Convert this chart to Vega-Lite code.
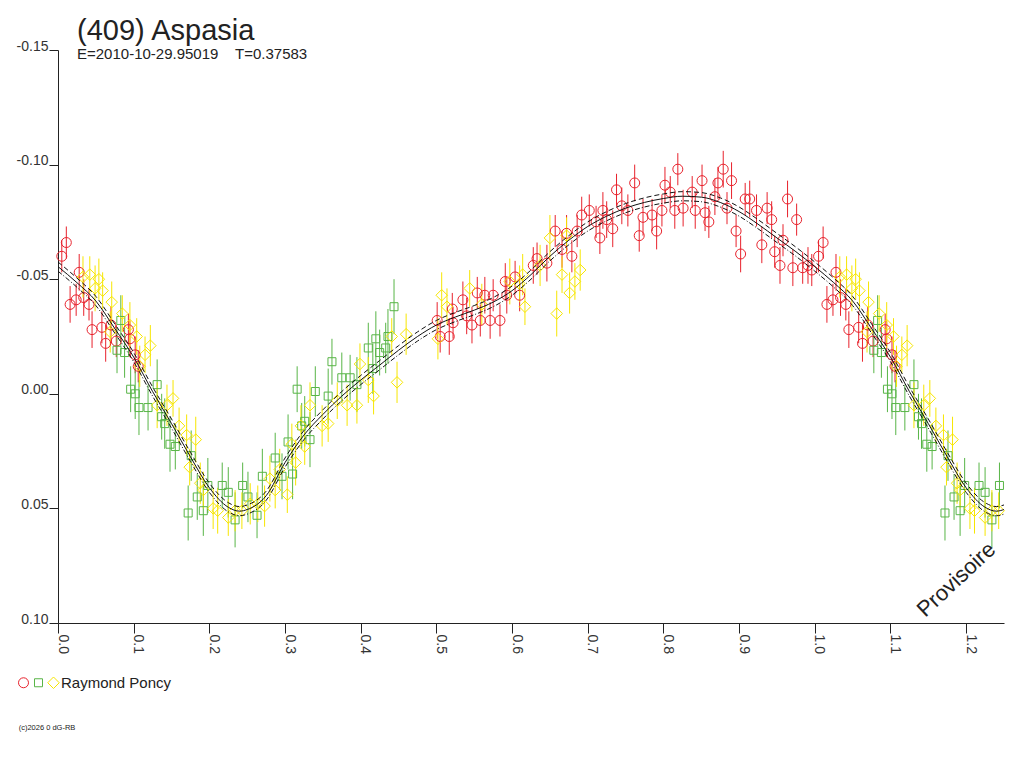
{
"$schema":"https://vega.github.io/schema/vega-lite/v6.json",
"autosize":{"type":"none"},
"padding":{"left":58,"top":50,"right":20,"bottom":145},
"width":946,"height":573,
"background":"white",
"title":{"text":"(409) Aspasia","subtitle":"E=2010-10-29.95019\u00a0\u00a0\u00a0\u00a0T=0.37583","anchor":"start","frame":"group","dx":19,"offset":-23,"font":"Liberation Sans","fontSize":29,"fontWeight":"normal","color":"#222","subtitleFont":"Liberation Sans","subtitleFontSize":15,"subtitleColor":"#222","subtitlePadding":1},
"config":{"view":{"stroke":null},"axis":{"grid":false,"domainColor":"#222","tickColor":"#222","labelFont":"Liberation Sans","labelFontSize":14,"labelColor":"#333"}},
"datasets":{
"points":[
{"series":"a","phase":0.011,"mag":-0.066,"err":0.007},{"series":"a","phase":0.005,"mag":-0.060,"err":0.007},{"series":"a","phase":0.028,"mag":-0.053,"err":0.008},{"series":"a","phase":0.016,"mag":-0.039,"err":0.008},{"series":"a","phase":0.024,"mag":-0.041,"err":0.007},{"series":"a","phase":0.034,"mag":-0.042,"err":0.008},{"series":"a","phase":0.041,"mag":-0.039,"err":0.007},{"series":"a","phase":0.045,"mag":-0.028,"err":0.008},{"series":"a","phase":0.058,"mag":-0.029,"err":0.007},{"series":"a","phase":0.063,"mag":-0.022,"err":0.008},{"series":"a","phase":0.070,"mag":-0.030,"err":0.008},{"series":"a","phase":0.077,"mag":-0.023,"err":0.007},{"series":"a","phase":0.093,"mag":-0.028,"err":0.007},{"series":"a","phase":0.095,"mag":-0.024,"err":0.008},{"series":"a","phase":0.102,"mag":-0.017,"err":0.008},{"series":"a","phase":0.106,"mag":-0.012,"err":0.007},
{"series":"a","phase":1.011,"mag":-0.066,"err":0.007},{"series":"a","phase":1.005,"mag":-0.060,"err":0.007},{"series":"a","phase":1.028,"mag":-0.053,"err":0.008},{"series":"a","phase":1.016,"mag":-0.039,"err":0.008},{"series":"a","phase":1.024,"mag":-0.041,"err":0.007},{"series":"a","phase":1.034,"mag":-0.042,"err":0.008},{"series":"a","phase":1.041,"mag":-0.039,"err":0.007},{"series":"a","phase":1.045,"mag":-0.028,"err":0.008},{"series":"a","phase":1.058,"mag":-0.029,"err":0.007},{"series":"a","phase":1.063,"mag":-0.022,"err":0.008},{"series":"a","phase":1.070,"mag":-0.030,"err":0.008},{"series":"a","phase":1.077,"mag":-0.023,"err":0.007},{"series":"a","phase":1.093,"mag":-0.028,"err":0.007},{"series":"a","phase":1.095,"mag":-0.024,"err":0.008},{"series":"a","phase":1.102,"mag":-0.017,"err":0.008},{"series":"a","phase":1.106,"mag":-0.012,"err":0.007},
{"series":"a","phase":0.501,"mag":-0.032,"err":0.008},{"series":"a","phase":0.505,"mag":-0.025,"err":0.007},{"series":"a","phase":0.517,"mag":-0.025,"err":0.008},{"series":"a","phase":0.521,"mag":-0.037,"err":0.007},{"series":"a","phase":0.535,"mag":-0.041,"err":0.008},{"series":"a","phase":0.522,"mag":-0.031,"err":0.007},{"series":"a","phase":0.547,"mag":-0.030,"err":0.008},{"series":"a","phase":0.554,"mag":-0.044,"err":0.007},{"series":"a","phase":0.540,"mag":-0.034,"err":0.008},{"series":"a","phase":0.558,"mag":-0.032,"err":0.007},{"series":"a","phase":0.571,"mag":-0.032,"err":0.008},{"series":"a","phase":0.584,"mag":-0.032,"err":0.007},{"series":"a","phase":0.564,"mag":-0.043,"err":0.008},{"series":"a","phase":0.575,"mag":-0.043,"err":0.007},{"series":"a","phase":0.591,"mag":-0.049,"err":0.008},{"series":"a","phase":0.604,"mag":-0.051,"err":0.007},{"series":"a","phase":0.593,"mag":-0.043,"err":0.008},{"series":"a","phase":0.610,"mag":-0.043,"err":0.007},{"series":"a","phase":0.628,"mag":-0.056,"err":0.008},{"series":"a","phase":0.633,"mag":-0.059,"err":0.007},{"series":"a","phase":0.646,"mag":-0.057,"err":0.008},{"series":"a","phase":0.657,"mag":-0.071,"err":0.007},{"series":"a","phase":0.672,"mag":-0.070,"err":0.008},{"series":"a","phase":0.686,"mag":-0.071,"err":0.007},{"series":"a","phase":0.666,"mag":-0.063,"err":0.008},{"series":"a","phase":0.679,"mag":-0.060,"err":0.007},{"series":"a","phase":0.692,"mag":-0.078,"err":0.008},{"series":"a","phase":0.702,"mag":-0.080,"err":0.007},{"series":"a","phase":0.720,"mag":-0.080,"err":0.008},{"series":"a","phase":0.716,"mag":-0.068,"err":0.007},{"series":"a","phase":0.725,"mag":-0.076,"err":0.008},{"series":"a","phase":0.711,"mag":-0.075,"err":0.007},{"series":"a","phase":0.733,"mag":-0.072,"err":0.008},{"series":"a","phase":0.738,"mag":-0.089,"err":0.007},{"series":"a","phase":0.745,"mag":-0.082,"err":0.008},{"series":"a","phase":0.753,"mag":-0.080,"err":0.007},{"series":"a","phase":0.762,"mag":-0.092,"err":0.008},{"series":"a","phase":0.768,"mag":-0.069,"err":0.007},{"series":"a","phase":0.773,"mag":-0.077,"err":0.008},{"series":"a","phase":0.785,"mag":-0.078,"err":0.007},{"series":"a","phase":0.791,"mag":-0.071,"err":0.008},{"series":"a","phase":0.798,"mag":-0.080,"err":0.007},{"series":"a","phase":0.802,"mag":-0.091,"err":0.008},{"series":"a","phase":0.809,"mag":-0.088,"err":0.007},{"series":"a","phase":0.815,"mag":-0.080,"err":0.008},{"series":"a","phase":0.819,"mag":-0.098,"err":0.007},{"series":"a","phase":0.826,"mag":-0.081,"err":0.008},{"series":"a","phase":0.838,"mag":-0.088,"err":0.007},{"series":"a","phase":0.842,"mag":-0.080,"err":0.008},{"series":"a","phase":0.851,"mag":-0.093,"err":0.007},{"series":"a","phase":0.855,"mag":-0.079,"err":0.008},{"series":"a","phase":0.860,"mag":-0.075,"err":0.007},{"series":"a","phase":0.868,"mag":-0.086,"err":0.008},{"series":"a","phase":0.872,"mag":-0.092,"err":0.007},{"series":"a","phase":0.879,"mag":-0.098,"err":0.008},{"series":"a","phase":0.884,"mag":-0.081,"err":0.007},{"series":"a","phase":0.890,"mag":-0.093,"err":0.008},{"series":"a","phase":0.896,"mag":-0.071,"err":0.007},{"series":"a","phase":0.902,"mag":-0.061,"err":0.008},{"series":"a","phase":0.908,"mag":-0.085,"err":0.007},{"series":"a","phase":0.914,"mag":-0.085,"err":0.008},{"series":"a","phase":0.923,"mag":-0.080,"err":0.007},{"series":"a","phase":0.930,"mag":-0.065,"err":0.008},{"series":"a","phase":0.937,"mag":-0.081,"err":0.007},{"series":"a","phase":0.943,"mag":-0.076,"err":0.008},{"series":"a","phase":0.947,"mag":-0.062,"err":0.007},{"series":"a","phase":0.954,"mag":-0.056,"err":0.008},{"series":"a","phase":0.958,"mag":-0.067,"err":0.007},{"series":"a","phase":0.964,"mag":-0.085,"err":0.008},{"series":"a","phase":0.976,"mag":-0.076,"err":0.007},{"series":"a","phase":0.971,"mag":-0.055,"err":0.008},{"series":"a","phase":0.984,"mag":-0.055,"err":0.007},{"series":"a","phase":0.991,"mag":-0.056,"err":0.008},{"series":"a","phase":0.996,"mag":-0.054,"err":0.007},
{"series":"b","phase":0.083,"mag":-0.032,"err":0.011},{"series":"b","phase":0.078,"mag":-0.019,"err":0.010},{"series":"b","phase":0.088,"mag":-0.018,"err":0.011},{"series":"b","phase":0.096,"mag":-0.002,"err":0.010},{"series":"b","phase":0.102,"mag":0.000,"err":0.011},{"series":"b","phase":0.107,"mag":0.006,"err":0.012},{"series":"b","phase":0.119,"mag":0.006,"err":0.010},{"series":"b","phase":0.131,"mag":-0.004,"err":0.011},{"series":"b","phase":0.137,"mag":0.010,"err":0.010},{"series":"b","phase":0.141,"mag":0.013,"err":0.011},{"series":"b","phase":0.148,"mag":0.022,"err":0.012},{"series":"b","phase":0.155,"mag":0.023,"err":0.010},{"series":"b","phase":0.176,"mag":0.027,"err":0.011},{"series":"b","phase":0.172,"mag":0.052,"err":0.012},{"series":"b","phase":0.184,"mag":0.045,"err":0.010},{"series":"b","phase":0.192,"mag":0.051,"err":0.011},{"series":"b","phase":0.198,"mag":0.040,"err":0.012},{"series":"b","phase":0.217,"mag":0.040,"err":0.010},{"series":"b","phase":0.225,"mag":0.043,"err":0.011},{"series":"b","phase":0.234,"mag":0.055,"err":0.012},{"series":"b","phase":0.244,"mag":0.040,"err":0.010},
{"series":"b","phase":1.083,"mag":-0.032,"err":0.011},{"series":"b","phase":1.078,"mag":-0.019,"err":0.010},{"series":"b","phase":1.088,"mag":-0.018,"err":0.011},{"series":"b","phase":1.096,"mag":-0.002,"err":0.010},{"series":"b","phase":1.102,"mag":0.000,"err":0.011},{"series":"b","phase":1.107,"mag":0.006,"err":0.012},{"series":"b","phase":1.119,"mag":0.006,"err":0.010},{"series":"b","phase":1.131,"mag":-0.004,"err":0.011},{"series":"b","phase":1.137,"mag":0.010,"err":0.010},{"series":"b","phase":1.141,"mag":0.013,"err":0.011},{"series":"b","phase":1.148,"mag":0.022,"err":0.012},{"series":"b","phase":1.155,"mag":0.023,"err":0.010},{"series":"b","phase":1.176,"mag":0.027,"err":0.011},{"series":"b","phase":1.172,"mag":0.052,"err":0.012},{"series":"b","phase":1.184,"mag":0.045,"err":0.010},{"series":"b","phase":1.192,"mag":0.051,"err":0.011},{"series":"b","phase":1.198,"mag":0.040,"err":0.012},{"series":"b","phase":1.217,"mag":0.040,"err":0.010},{"series":"b","phase":1.225,"mag":0.043,"err":0.011},{"series":"b","phase":1.234,"mag":0.055,"err":0.012},{"series":"b","phase":1.244,"mag":0.040,"err":0.010},
{"series":"b","phase":0.251,"mag":0.045,"err":0.011},{"series":"b","phase":0.263,"mag":0.053,"err":0.010},{"series":"b","phase":0.270,"mag":0.036,"err":0.012},{"series":"b","phase":0.287,"mag":0.028,"err":0.011},{"series":"b","phase":0.296,"mag":0.036,"err":0.010},{"series":"b","phase":0.304,"mag":0.021,"err":0.012},{"series":"b","phase":0.310,"mag":0.035,"err":0.011},{"series":"b","phase":0.322,"mag":0.014,"err":0.010},{"series":"b","phase":0.326,"mag":0.012,"err":0.011},{"series":"b","phase":0.333,"mag":0.020,"err":0.012},{"series":"b","phase":0.316,"mag":-0.002,"err":0.010},{"series":"b","phase":0.340,"mag":-0.001,"err":0.011},{"series":"b","phase":0.357,"mag":0.001,"err":0.012},{"series":"b","phase":0.362,"mag":-0.014,"err":0.010},{"series":"b","phase":0.375,"mag":-0.007,"err":0.011},{"series":"b","phase":0.386,"mag":-0.007,"err":0.010},{"series":"b","phase":0.395,"mag":-0.004,"err":0.012},{"series":"b","phase":0.410,"mag":-0.020,"err":0.011},{"series":"b","phase":0.420,"mag":-0.024,"err":0.012},{"series":"b","phase":0.425,"mag":-0.018,"err":0.010},{"series":"b","phase":0.433,"mag":-0.020,"err":0.011},{"series":"b","phase":0.436,"mag":-0.025,"err":0.012},{"series":"b","phase":0.416,"mag":-0.011,"err":0.011},{"series":"b","phase":0.444,"mag":-0.038,"err":0.012},
{"series":"c","phase":0.033,"mag":-0.051,"err":0.009},{"series":"c","phase":0.042,"mag":-0.052,"err":0.008},{"series":"c","phase":0.054,"mag":-0.050,"err":0.009},{"series":"c","phase":0.049,"mag":-0.046,"err":0.010},{"series":"c","phase":0.059,"mag":-0.045,"err":0.008},{"series":"c","phase":0.071,"mag":-0.040,"err":0.009},{"series":"c","phase":0.085,"mag":-0.035,"err":0.008},{"series":"c","phase":0.069,"mag":-0.027,"err":0.009},{"series":"c","phase":0.095,"mag":-0.030,"err":0.010},{"series":"c","phase":0.104,"mag":-0.025,"err":0.008},{"series":"c","phase":0.122,"mag":-0.021,"err":0.009},{"series":"c","phase":0.115,"mag":-0.017,"err":0.008},{"series":"c","phase":0.108,"mag":-0.012,"err":0.009},{"series":"c","phase":0.131,"mag":0.005,"err":0.010},{"series":"c","phase":0.152,"mag":0.002,"err":0.008},{"series":"c","phase":0.144,"mag":0.005,"err":0.009},{"series":"c","phase":0.160,"mag":0.014,"err":0.008},{"series":"c","phase":0.170,"mag":0.018,"err":0.009},{"series":"c","phase":0.182,"mag":0.020,"err":0.010},{"series":"c","phase":0.174,"mag":0.032,"err":0.008},{"series":"c","phase":0.188,"mag":0.039,"err":0.009},{"series":"c","phase":0.192,"mag":0.042,"err":0.008},{"series":"c","phase":0.205,"mag":0.050,"err":0.009},{"series":"c","phase":0.211,"mag":0.051,"err":0.010},{"series":"c","phase":0.225,"mag":0.054,"err":0.008},{"series":"c","phase":0.234,"mag":0.051,"err":0.009},{"series":"c","phase":0.243,"mag":0.051,"err":0.008},
{"series":"c","phase":1.033,"mag":-0.051,"err":0.009},{"series":"c","phase":1.042,"mag":-0.052,"err":0.008},{"series":"c","phase":1.054,"mag":-0.050,"err":0.009},{"series":"c","phase":1.049,"mag":-0.046,"err":0.010},{"series":"c","phase":1.059,"mag":-0.045,"err":0.008},{"series":"c","phase":1.071,"mag":-0.040,"err":0.009},{"series":"c","phase":1.085,"mag":-0.035,"err":0.008},{"series":"c","phase":1.069,"mag":-0.027,"err":0.009},{"series":"c","phase":1.095,"mag":-0.030,"err":0.010},{"series":"c","phase":1.104,"mag":-0.025,"err":0.008},{"series":"c","phase":1.122,"mag":-0.021,"err":0.009},{"series":"c","phase":1.115,"mag":-0.017,"err":0.008},{"series":"c","phase":1.108,"mag":-0.012,"err":0.009},{"series":"c","phase":1.131,"mag":0.005,"err":0.010},{"series":"c","phase":1.152,"mag":0.002,"err":0.008},{"series":"c","phase":1.144,"mag":0.005,"err":0.009},{"series":"c","phase":1.160,"mag":0.014,"err":0.008},{"series":"c","phase":1.170,"mag":0.018,"err":0.009},{"series":"c","phase":1.182,"mag":0.020,"err":0.010},{"series":"c","phase":1.174,"mag":0.032,"err":0.008},{"series":"c","phase":1.188,"mag":0.039,"err":0.009},{"series":"c","phase":1.192,"mag":0.042,"err":0.008},{"series":"c","phase":1.205,"mag":0.050,"err":0.009},{"series":"c","phase":1.211,"mag":0.051,"err":0.010},{"series":"c","phase":1.225,"mag":0.054,"err":0.008},{"series":"c","phase":1.234,"mag":0.051,"err":0.009},{"series":"c","phase":1.243,"mag":0.051,"err":0.008},
{"series":"c","phase":0.254,"mag":0.048,"err":0.009},{"series":"c","phase":0.264,"mag":0.048,"err":0.008},{"series":"c","phase":0.273,"mag":0.049,"err":0.009},{"series":"c","phase":0.280,"mag":0.037,"err":0.010},{"series":"c","phase":0.287,"mag":0.042,"err":0.008},{"series":"c","phase":0.293,"mag":0.033,"err":0.009},{"series":"c","phase":0.303,"mag":0.044,"err":0.008},{"series":"c","phase":0.309,"mag":0.022,"err":0.009},{"series":"c","phase":0.314,"mag":0.030,"err":0.010},{"series":"c","phase":0.326,"mag":0.023,"err":0.008},{"series":"c","phase":0.349,"mag":0.014,"err":0.009},{"series":"c","phase":0.357,"mag":0.013,"err":0.008},{"series":"c","phase":0.321,"mag":0.014,"err":0.009},{"series":"c","phase":0.333,"mag":0.005,"err":0.010},{"series":"c","phase":0.369,"mag":0.003,"err":0.008},{"series":"c","phase":0.382,"mag":0.005,"err":0.009},{"series":"c","phase":0.395,"mag":0.005,"err":0.008},{"series":"c","phase":0.399,"mag":-0.013,"err":0.009},{"series":"c","phase":0.410,"mag":-0.006,"err":0.010},{"series":"c","phase":0.417,"mag":0.001,"err":0.008},{"series":"c","phase":0.448,"mag":-0.005,"err":0.009},{"series":"c","phase":0.441,"mag":-0.025,"err":0.008},{"series":"c","phase":0.460,"mag":-0.026,"err":0.009},{"series":"c","phase":0.507,"mag":-0.043,"err":0.010},{"series":"c","phase":0.514,"mag":-0.038,"err":0.008},{"series":"c","phase":0.502,"mag":-0.024,"err":0.009},{"series":"c","phase":0.544,"mag":-0.046,"err":0.008},{"series":"c","phase":0.560,"mag":-0.039,"err":0.009},{"series":"c","phase":0.597,"mag":-0.049,"err":0.010},{"series":"c","phase":0.610,"mag":-0.048,"err":0.008},{"series":"c","phase":0.614,"mag":-0.052,"err":0.009},{"series":"c","phase":0.617,"mag":-0.038,"err":0.008},{"series":"c","phase":0.637,"mag":-0.056,"err":0.009},{"series":"c","phase":0.650,"mag":-0.068,"err":0.010},{"series":"c","phase":0.666,"mag":-0.052,"err":0.008},{"series":"c","phase":0.676,"mag":-0.044,"err":0.009},{"series":"c","phase":0.683,"mag":-0.049,"err":0.008},{"series":"c","phase":0.690,"mag":-0.054,"err":0.009},{"series":"c","phase":0.659,"mag":-0.035,"err":0.010},{"series":"c","phase":0.672,"mag":-0.069,"err":0.008}
],
"curve":[
{"phase":0.000,"mid":-0.0555,"hi":-0.0575,"lo":-0.0535},{"phase":0.025,"mid":-0.0485,"hi":-0.0505,"lo":-0.0465},{"phase":0.050,"mid":-0.0405,"hi":-0.0425,"lo":-0.0385},{"phase":0.075,"mid":-0.0285,"hi":-0.0305,"lo":-0.0265},{"phase":0.100,"mid":-0.0160,"hi":-0.0180,"lo":-0.0140},{"phase":0.125,"mid":-0.0010,"hi":-0.0030,"lo":0.0010},{"phase":0.150,"mid":0.0130,"hi":0.0110,"lo":0.0150},{"phase":0.175,"mid":0.0275,"hi":0.0255,"lo":0.0295},{"phase":0.200,"mid":0.0410,"hi":0.0390,"lo":0.0430},{"phase":0.225,"mid":0.0495,"hi":0.0475,"lo":0.0515},{"phase":0.240,"mid":0.0512,"hi":0.0492,"lo":0.0532},{"phase":0.250,"mid":0.0505,"hi":0.0485,"lo":0.0525},{"phase":0.275,"mid":0.0445,"hi":0.0425,"lo":0.0465},{"phase":0.300,"mid":0.0300,"hi":0.0280,"lo":0.0320},{"phase":0.325,"mid":0.0180,"hi":0.0160,"lo":0.0200},{"phase":0.350,"mid":0.0090,"hi":0.0070,"lo":0.0110},{"phase":0.375,"mid":0.0010,"hi":-0.0010,"lo":0.0030},{"phase":0.400,"mid":-0.0060,"hi":-0.0080,"lo":-0.0040},{"phase":0.425,"mid":-0.0125,"hi":-0.0145,"lo":-0.0105},{"phase":0.450,"mid":-0.0190,"hi":-0.0210,"lo":-0.0170},{"phase":0.475,"mid":-0.0250,"hi":-0.0270,"lo":-0.0230},{"phase":0.500,"mid":-0.0300,"hi":-0.0320,"lo":-0.0280},{"phase":0.525,"mid":-0.0335,"hi":-0.0355,"lo":-0.0315},{"phase":0.550,"mid":-0.0365,"hi":-0.0385,"lo":-0.0345},{"phase":0.575,"mid":-0.0400,"hi":-0.0420,"lo":-0.0380},{"phase":0.600,"mid":-0.0450,"hi":-0.0470,"lo":-0.0430},{"phase":0.625,"mid":-0.0520,"hi":-0.0540,"lo":-0.0500},{"phase":0.650,"mid":-0.0600,"hi":-0.0620,"lo":-0.0580},{"phase":0.675,"mid":-0.0670,"hi":-0.0690,"lo":-0.0650},{"phase":0.700,"mid":-0.0730,"hi":-0.0750,"lo":-0.0710},{"phase":0.725,"mid":-0.0775,"hi":-0.0795,"lo":-0.0755},{"phase":0.750,"mid":-0.0810,"hi":-0.0830,"lo":-0.0790},{"phase":0.775,"mid":-0.0835,"hi":-0.0855,"lo":-0.0815},{"phase":0.800,"mid":-0.0852,"hi":-0.0872,"lo":-0.0832},{"phase":0.825,"mid":-0.0862,"hi":-0.0882,"lo":-0.0842},{"phase":0.850,"mid":-0.0858,"hi":-0.0878,"lo":-0.0838},{"phase":0.875,"mid":-0.0835,"hi":-0.0855,"lo":-0.0815},{"phase":0.900,"mid":-0.0795,"hi":-0.0815,"lo":-0.0775},{"phase":0.925,"mid":-0.0740,"hi":-0.0760,"lo":-0.0720},{"phase":0.950,"mid":-0.0680,"hi":-0.0700,"lo":-0.0660},{"phase":0.975,"mid":-0.0620,"hi":-0.0640,"lo":-0.0600},{"phase":1.000,"mid":-0.0555,"hi":-0.0575,"lo":-0.0535},{"phase":1.025,"mid":-0.0485,"hi":-0.0505,"lo":-0.0465},{"phase":1.050,"mid":-0.0405,"hi":-0.0425,"lo":-0.0385},{"phase":1.075,"mid":-0.0285,"hi":-0.0305,"lo":-0.0265},{"phase":1.100,"mid":-0.0160,"hi":-0.0180,"lo":-0.0140},{"phase":1.125,"mid":-0.0010,"hi":-0.0030,"lo":0.0010},{"phase":1.150,"mid":0.0130,"hi":0.0110,"lo":0.0150},{"phase":1.175,"mid":0.0275,"hi":0.0255,"lo":0.0295},{"phase":1.200,"mid":0.0410,"hi":0.0390,"lo":0.0430},{"phase":1.225,"mid":0.0495,"hi":0.0475,"lo":0.0515},{"phase":1.240,"mid":0.0512,"hi":0.0492,"lo":0.0532},{"phase":1.250,"mid":0.0505,"hi":0.0485,"lo":0.0525}
]
},
"layer":[
{"data":{"name":"points"},"mark":{"type":"errorbar","ticks":false,"thickness":1},
 "encoding":{"x":{"field":"phase","type":"quantitative","title":null},"y":{"field":"mag","type":"quantitative","title":null},"yError":{"field":"err"},"color":{"field":"series","type":"nominal"}}},
{"data":{"name":"points"},"mark":{"type":"point","filled":false,"size":100,"strokeWidth":1,"opacity":1},
 "encoding":{
  "x":{"field":"phase","type":"quantitative","title":null,"scale":{"domain":[0,1.25],"nice":false,"zero":false},
   "axis":{"values":[0,0.05,0.1,0.15,0.2,0.25,0.3,0.35,0.4,0.45,0.5,0.55,0.6,0.65,0.7,0.75,0.8,0.85,0.9,0.95,1,1.05,1.1,1.15,1.2,1.25],"labelExpr":"abs(datum.value*10 - round(datum.value*10)) < 0.001 ? format(datum.value, '.1f') : ''","labelAngle":90,"labelAlign":"left","labelBaseline":"alphabetic","tickSize":10,"labelPadding":1,"labelOverlap":false,"labelFlush":false,"title":null}},
  "y":{"field":"mag","type":"quantitative","title":null,"scale":{"domain":[-0.15,0.1],"reverse":true,"nice":false,"zero":false},
   "axis":{"values":[-0.15,-0.1,-0.05,0,0.05,0.1],"labelExpr":"(datum.value < -0.0001 ? '-' : '') + format(abs(datum.value), '.2f')","tickSize":9,"labelPadding":1,"labelBaseline":"alphabetic","labelOverlap":false,"labelFlush":false,"title":null}},
  "color":{"field":"series","type":"nominal","scale":{"domain":["a","b","c"],"range":["#e8222c","#58b547","#f7e600"]},
   "legend":{"orient":"none","legendX":-42,"legendY":625,"direction":"horizontal","title":null,"labelExpr":"datum.value == 'c' ? '\u00a0\u00a0Raymond Poncy' : ''","labelFont":"Liberation Sans","labelFontSize":15,"labelColor":"#222","labelOffset":0,"columnPadding":-9,"symbolSize":100,"symbolStrokeWidth":1,"padding":0}},
  "shape":{"field":"series","type":"nominal","scale":{"domain":["a","b","c"],"range":["M1,0A1,1,0,1,1,-1,0A1,1,0,1,1,1,0Z","M-0.8,-0.8H0.8V0.8H-0.8Z","M0,-1.15L1.15,0L0,1.15L-1.15,0Z"]}}
 }},
{"data":{"name":"curve"},"mark":{"type":"line","color":"#111","strokeWidth":1,"interpolate":"monotone"},
 "encoding":{"x":{"field":"phase","type":"quantitative","title":null},"y":{"field":"mid","type":"quantitative","title":null}}},
{"data":{"name":"curve"},"mark":{"type":"line","color":"#111","strokeWidth":1,"strokeDash":[5,3],"interpolate":"monotone"},
 "encoding":{"x":{"field":"phase","type":"quantitative","title":null},"y":{"field":"hi","type":"quantitative","title":null}}},
{"data":{"name":"curve"},"mark":{"type":"line","color":"#111","strokeWidth":1,"strokeDash":[5,2,1,2],"interpolate":"monotone"},
 "encoding":{"x":{"field":"phase","type":"quantitative","title":null},"y":{"field":"lo","type":"quantitative","title":null}}},
{"data":{"values":[{"label":"Provisoire"}]},"mark":{"type":"text","angle":-43,"font":"Liberation Sans","fontSize":22,"color":"#222","align":"center","baseline":"middle"},
 "encoding":{"x":{"datum":1.187},"y":{"datum":0.081},"text":{"field":"label"}}},
{"data":{"values":[{"label":"(c)2026 0 dG-RB"}]},"mark":{"type":"text","font":"Liberation Sans","fontSize":7.5,"color":"#222","align":"left","baseline":"middle","clip":false},
 "encoding":{"x":{"datum":-0.052},"y":{"datum":0.146},"text":{"field":"label"}}}
]
}
